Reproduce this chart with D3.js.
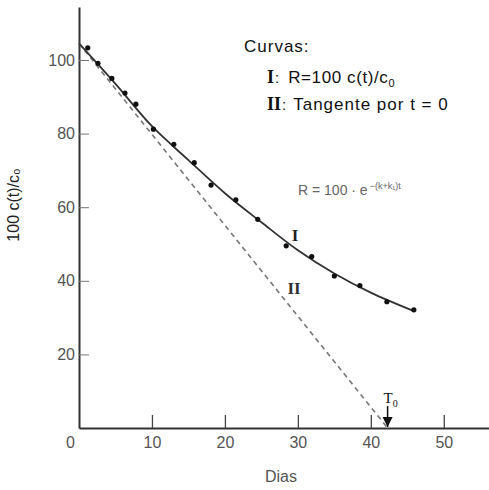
<!DOCTYPE html>
<html>
<head>
<meta charset="utf-8">
<script src="https://cdn.jsdelivr.net/npm/d3@7"></script>
<style>
  body { margin: 0; background: #fff; }
  svg { display: block; font-family: "Liberation Sans", Arial, sans-serif; }
</style>
</head>
<body>
<svg id="chart" width="489" height="490"></svg>
<script>
// measured points (Dias, 100 c(t)/c0)
const dias = [1.2, 2.6, 4.5, 6.3, 7.8, 10.2, 13.0, 15.8, 18.1, 21.5, 24.5, 28.4, 31.9, 35.0, 38.5, 42.2, 45.9];
const valores = [103.3, 99.1, 95.0, 91.0, 88.0, 81.2, 77.1, 72.1, 66.0, 62.0, 56.7, 49.5, 46.6, 41.3, 38.7, 34.3, 32.1];

// curve I
const curvaT = [0, 5, 10, 15, 20, 25, 30, 35, 40, 46];
const curvaR = [104.5, 93.5, 82, 72.8, 63.8, 55.9, 48.3, 42, 36.8, 31.7];

// curve II: tangent through t = 0
const tangT = [0, 42.3];
const tangR = [104.5, 0];
const t0 = 42.3;

const xTicks = [0, 10, 20, 30, 40, 50];
const yTicks = [20, 40, 60, 80, 100];

const svg = d3.select('#chart');

// scales (origin at 79,428)
const x = d3.scaleLinear().domain([0, 56.2]).range([79, 489]);
const y = d3.scaleLinear().domain([0, 114.4]).range([428, 7]);

// x axis, ticks pointing up
const xAxis = svg.append('g')
  .attr('transform', `translate(0,${y(0)})`)
  .call(d3.axisBottom(x).tickValues(xTicks).tickSize(-13).tickPadding(9).tickSizeOuter(0));
xAxis.select('.domain').attr('stroke', '#333').attr('stroke-width', 2);
xAxis.selectAll('.tick line').attr('stroke', '#444').attr('stroke-width', 1.3);
xAxis.selectAll('.tick text').attr('font-size', 16).attr('fill', '#555')
  .attr('font-family', '"Liberation Sans", Arial, sans-serif');
// origin label sits left of the axis line
xAxis.selectAll('.tick').filter(d => d === 0).select('line').remove();
xAxis.selectAll('.tick').filter(d => d === 0).select('text').attr('x', -9);

// y axis, ticks pointing right
const yAxis = svg.append('g')
  .attr('transform', `translate(${x(0)},0)`)
  .call(d3.axisLeft(y).tickValues(yTicks).tickSize(-10).tickPadding(4).tickSizeOuter(0));
yAxis.select('.domain').attr('stroke', '#333').attr('stroke-width', 2);
yAxis.selectAll('.tick line').attr('stroke', '#777').attr('stroke-width', 1);
yAxis.selectAll('.tick text').attr('font-size', 16).attr('fill', '#555')
  .attr('font-family', '"Liberation Sans", Arial, sans-serif');

// axis titles
svg.append('text')
  .attr('transform', 'translate(19,205) rotate(-90)')
  .attr('text-anchor', 'middle')
  .attr('font-size', 16)
  .attr('fill', '#222')
  .text('100 c(t)/c₀');

svg.append('text')
  .attr('x', 281).attr('y', 482)
  .attr('text-anchor', 'middle')
  .attr('font-size', 16)
  .attr('fill', '#555')
  .text('Dias');

// curve II (tangent), dashed
const tangData = tangT.map((t, i) => [t, tangR[i]]);
svg.append('path')
  .attr('d', d3.line().x(d => x(d[0])).y(d => y(d[1]))(tangData))
  .attr('fill', 'none')
  .attr('stroke', '#777')
  .attr('stroke-width', 1.6)
  .attr('stroke-dasharray', '5,4');

// curve I, solid
const curvaData = curvaT.map((t, i) => [t, curvaR[i]]);
svg.append('path')
  .attr('d', d3.line().x(d => x(d[0])).y(d => y(d[1])).curve(d3.curveCatmullRom)(curvaData))
  .attr('fill', 'none')
  .attr('stroke', '#333')
  .attr('stroke-width', 1.8);

// measured points
const puntos = dias.map((t, i) => [t, valores[i]]);
svg.append('g').selectAll('circle')
  .data(puntos)
  .join('circle')
  .attr('cx', d => x(d[0]))
  .attr('cy', d => y(d[1]))
  .attr('r', 2.6)
  .attr('fill', '#111');

// T0 marker with arrow
svg.append('defs').append('marker')
  .attr('id', 'head')
  .attr('viewBox', '0 0 10 10')
  .attr('refX', 10).attr('refY', 5)
  .attr('markerWidth', 7).attr('markerHeight', 7)
  .attr('orient', 'auto')
  .append('path').attr('d', 'M0,0L10,5L0,10Z').attr('fill', '#111');

svg.append('line')
  .attr('x1', x(t0)).attr('x2', x(t0))
  .attr('y1', y(0) - 22).attr('y2', y(0) - 1)
  .attr('stroke', '#111').attr('stroke-width', 1.5)
  .attr('marker-end', 'url(#head)');

const tLab = svg.append('text')
  .attr('x', x(t0) - 4).attr('y', y(0) - 25)
  .attr('font-family', '"Liberation Serif", serif')
  .attr('font-size', 15)
  .attr('fill', '#111');
tLab.append('tspan').text('T');
tLab.append('tspan').attr('font-size', 10).attr('dy', 4).text('0');

// curve labels
svg.append('text')
  .attr('x', 295).attr('y', 241)
  .attr('text-anchor', 'middle')
  .attr('font-family', '"Liberation Serif", serif')
  .attr('font-weight', 'bold')
  .attr('font-size', 17)
  .attr('fill', '#222')
  .text('I');

svg.append('text')
  .attr('x', 294).attr('y', 294)
  .attr('text-anchor', 'middle')
  .attr('font-family', '"Liberation Serif", serif')
  .attr('font-weight', 'bold')
  .attr('font-size', 17)
  .attr('fill', '#333')
  .text('II');

// formula
const form = svg.append('text')
  .attr('x', 298).attr('y', 195)
  .attr('font-size', 14)
  .attr('fill', '#666');
form.append('tspan').text('R = 100 · e');
form.append('tspan').attr('font-size', 9).attr('dy', -6).attr('dx', 2).text('−(k+k₁)t');

// legend block
svg.append('text')
  .attr('x', 244).attr('y', 52)
  .attr('font-size', 17)
  .attr('letter-spacing', 1)
  .attr('fill', '#111')
  .text('Curvas:');

const leg1 = svg.append('text').attr('x', 267).attr('y', 83).attr('fill', '#111');
leg1.append('tspan').attr('font-family', '"Liberation Serif", serif').attr('font-weight', 'bold')
  .attr('font-size', 18).text('I');
leg1.append('tspan').attr('font-size', 15).attr('dx', 1).text(':');
leg1.append('tspan').attr('font-size', 17).attr('dx', 9).attr('letter-spacing', 0.6).text('R=100 c(t)/c');
leg1.append('tspan').attr('font-size', 11).attr('dy', 4).text('0');

const leg2 = svg.append('text').attr('x', 267).attr('y', 110).attr('fill', '#111');
leg2.append('tspan').attr('font-family', '"Liberation Serif", serif').attr('font-weight', 'bold')
  .attr('font-size', 18).text('II');
leg2.append('tspan').attr('font-size', 15).attr('dx', 1).text(':');
leg2.append('tspan').attr('font-size', 17).attr('dx', 7).attr('letter-spacing', 1).text('Tangente por t = 0');
</script>
</body>
</html>
